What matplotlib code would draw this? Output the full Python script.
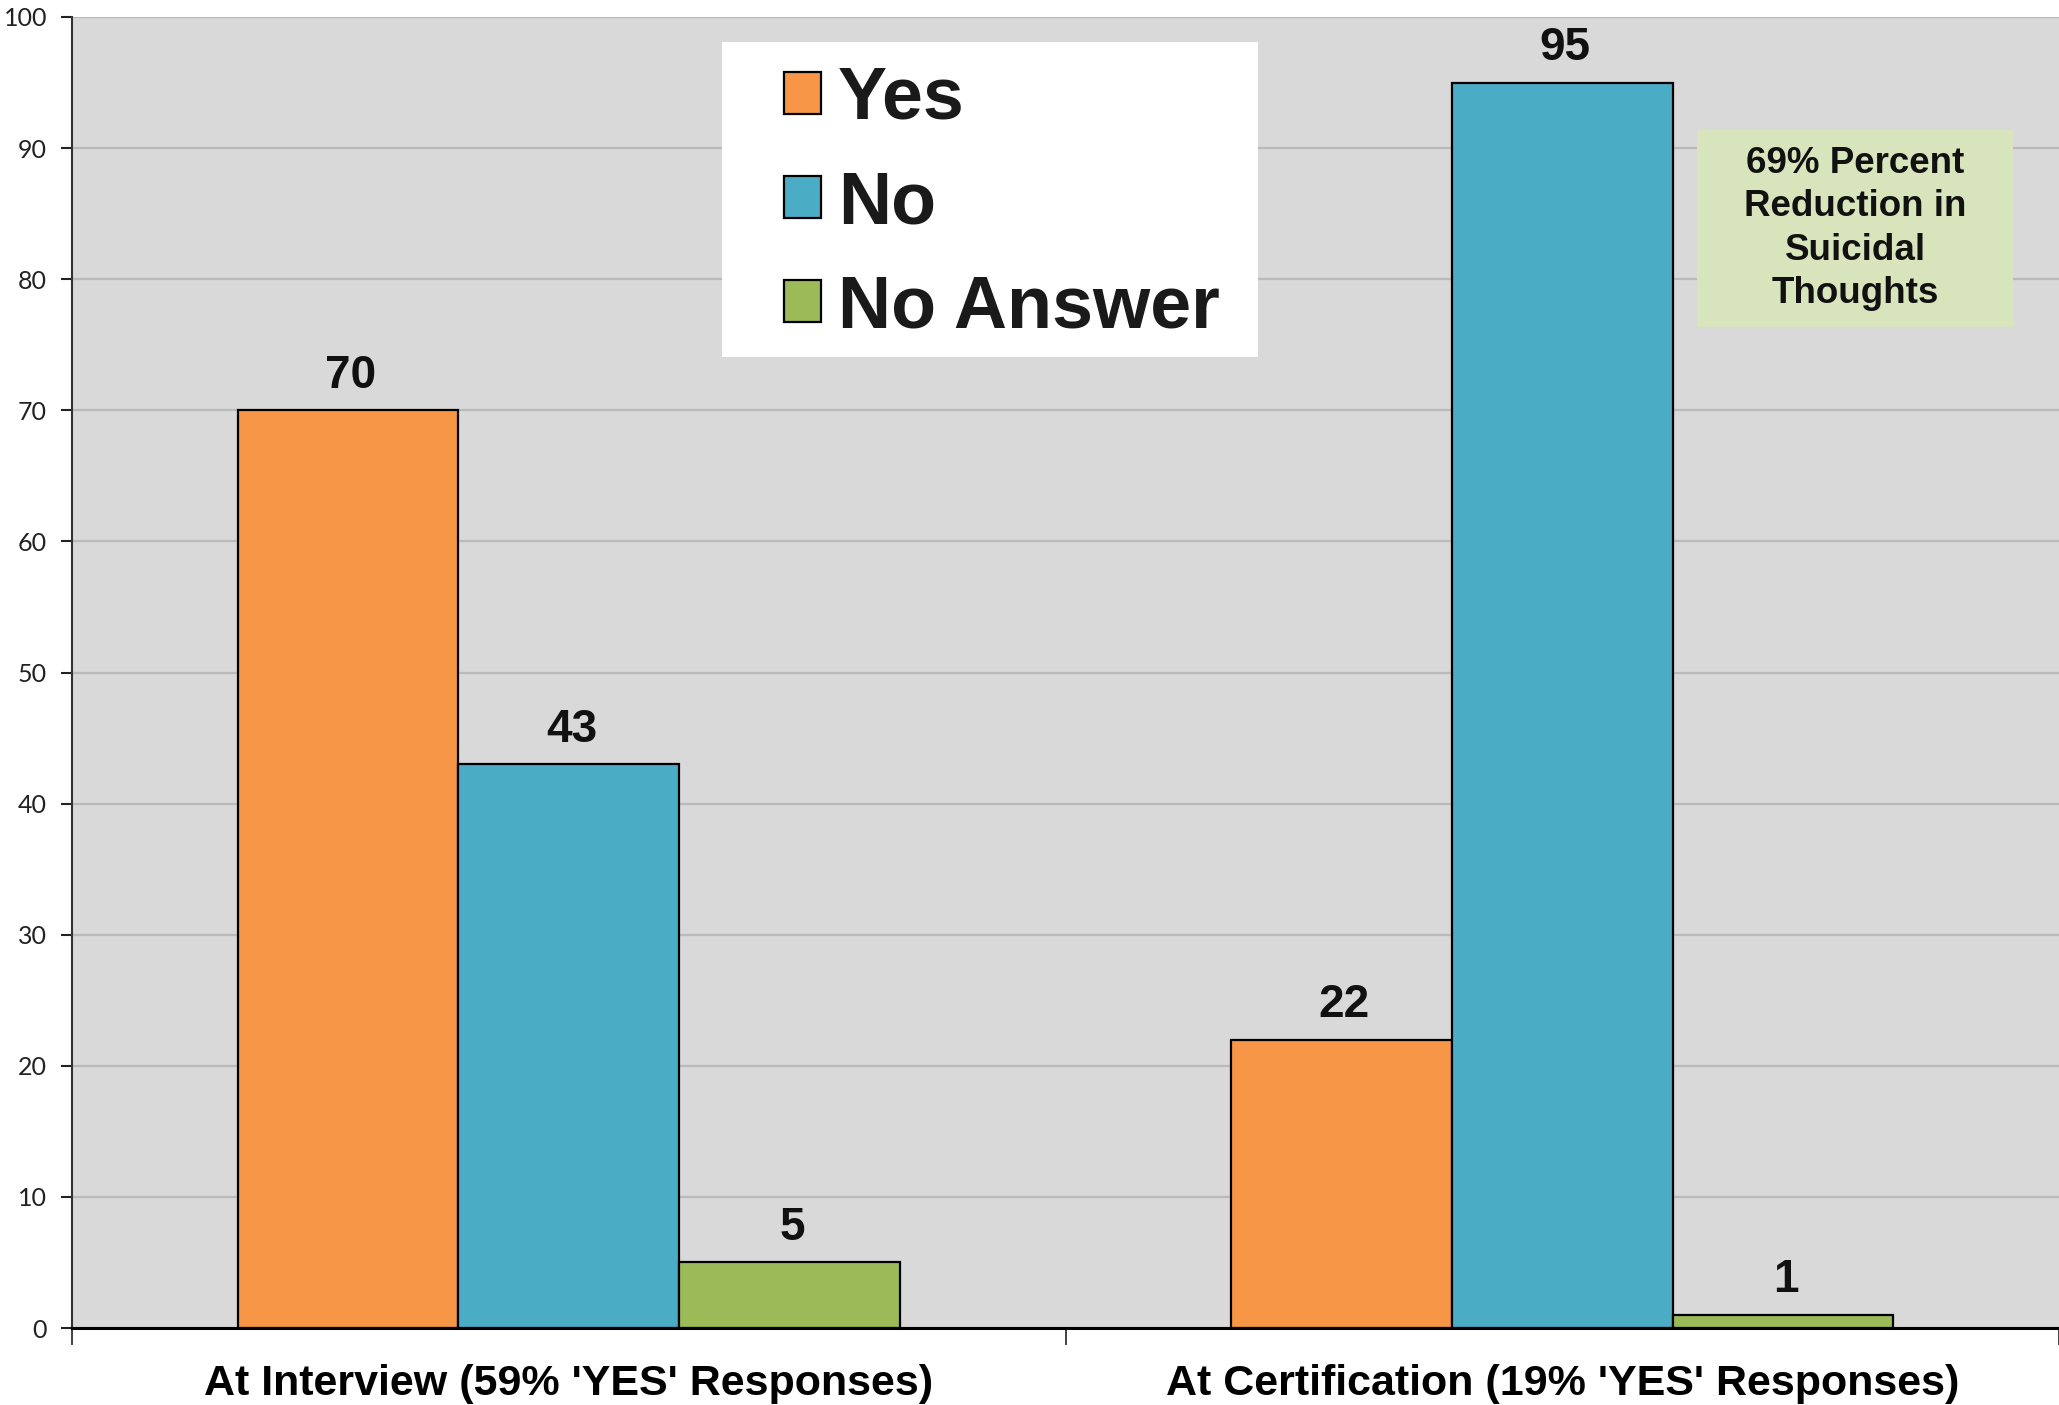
import matplotlib
matplotlib.use("Agg")
import matplotlib.pyplot as plt
import numpy as np
from matplotlib.patches import Rectangle

categories = ["At Interview (59% 'YES' Responses)", "At Certification (19% 'YES' Responses)"]
series = ["Yes", "No", "No Answer"]
yes_vals = [70, 22]
no_vals = [43, 95]
noans_vals = [5, 1]
colors = ["#f79646", "#4bacc6", "#9bbb59"]
note = "69% Percent\nReduction in\nSuicidal\nThoughts"

fig = plt.figure(figsize=(20.59, 14.05), dpi=100)
ax = fig.add_axes([72/2059, 77/1405, 1987/2059, 1311/1405])
ax.set_facecolor("#d9d9d9")

x = np.arange(len(categories))
w = 1/4.5
bold = dict(family="Liberation Sans", weight="bold")
for i, (vals, c, name) in enumerate(zip([yes_vals, no_vals, noans_vals], colors, series)):
    bars = ax.bar(x + (i-1)*w, vals, w, color=c, edgecolor="black", linewidth=1.6,
                  label=name, zorder=3)
    for b, v in zip(bars, vals):
        ax.annotate(str(v), (b.get_x() + b.get_width()/2, v), xytext=(2, 9),
                    textcoords="offset points", ha="center", va="bottom",
                    fontsize=33, color="#111111", **bold)

ax.set_xlim(-0.5, 1.5)
ax.set_ylim(0, 100)
ax.set_yticks(range(0, 101, 10))
ax.yaxis.grid(True, color="#bababa", linewidth=1.6, zorder=0)
ax.set_axisbelow(True)
ax.tick_params(axis="y", labelsize=18, length=8, width=1.5, pad=10, colors="#222222")
for lab in ax.get_yticklabels():
    lab.set_family("Lato")

ax.set_xticks([-0.5, 0.5, 1.5])
ax.set_xticklabels([])
ax.tick_params(axis="x", which="major", length=12, width=1.2, color="#222222")
ax.set_xticks(x, minor=True)
ax.set_xticklabels(categories, minor=True, fontsize=31, **bold)
ax.tick_params(axis="x", which="minor", length=0, pad=26)

ax.spines["top"].set_visible(False)
ax.spines["right"].set_visible(False)
ax.spines["left"].set_color("#333333")
ax.spines["left"].set_linewidth(1.5)
ax.spines["bottom"].set_linewidth(2.2)
ax.spines["bottom"].set_zorder(4)

# legend on white panel
ax.add_patch(Rectangle((0.327, 0.7407), 0.27, 0.2403, transform=ax.transAxes,
                       facecolor="white", edgecolor="none", zorder=5))
leg = ax.legend(loc="upper left", bbox_to_anchor=((747-72)/1987, (1328-28)/1311),
                frameon=False, borderpad=0, handlelength=0.5, handleheight=0.5,
                handletextpad=0.24, labelspacing=0.48,
                prop=dict(family="Liberation Sans", weight="bold", size=53))
leg.set_zorder(6)
for t in leg.get_texts():
    t.set_color("#1a1a1a")

# note box
ax.add_patch(Rectangle((0.818, 0.7635), 0.159, 0.1505, transform=ax.transAxes,
                       facecolor="#d8e4bc", edgecolor="none", zorder=5))
ax.text(0.8975, 0.8387, note, transform=ax.transAxes, ha="center", va="center",
        fontsize=26.5, linespacing=1.3, zorder=6, color="#111111", **bold)

fig.savefig("out.png", dpi=100)
